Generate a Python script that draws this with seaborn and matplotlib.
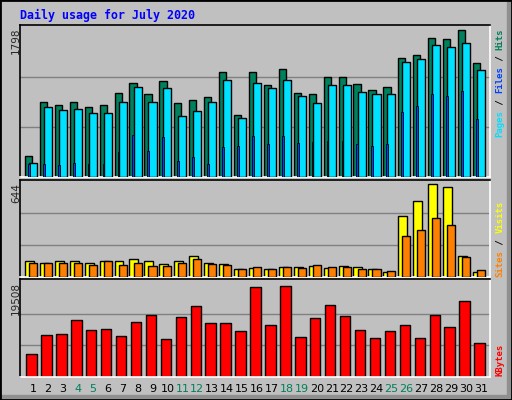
import matplotlib
matplotlib.use("Agg")
import matplotlib.pyplot as plt
import seaborn as sns
import numpy as np
from matplotlib.patches import Rectangle

days = list(range(1, 32))
hits = [248,903,867,903,843,867,1011,1131,999,1147,891,927,963,1255,747,1255,
        1107,1299,1011,999,1203,1203,1119,1047,1083,1430,1466,1670,1658,1766,1370]
files = [172,843,807,819,771,771,903,1083,903,1071,735,795,903,1167,711,1131,
         1071,1167,975,891,1107,1107,1023,999,999,1382,1418,1586,1562,1610,1286]
pages = [160,160,148,172,160,160,304,507,316,483,196,244,160,364,376,495,
         400,495,412,424,436,436,400,376,400,783,855,999,975,1035,699]
visits = [105,96,105,105,96,105,105,123,110,90,105,144,96,90,56,63,
          56,70,70,76,63,76,70,56,36,406,507,622,601,144,36]
sites = [92,96,96,96,83,105,83,96,76,76,96,123,90,83,56,70,
         56,70,63,83,70,70,56,56,43,278,312,393,352,137,49]
kbytes = [4791,8693,8898,11773,9720,9925,8488,11363,12800,7872,12389,14648,11157,11157,9514,18549,
          10746,18755,8282,12184,14853,12595,9720,8077,9514,10746,8077,12800,10336,15675,7050]
weekend = [4,5,11,12,18,19,25,26]
max_hits, max_visits, max_kb = 1798, 644, 19508

sns.set_theme(style="white")
BG = "#C0C0C0"
W, H = 512, 400
fig = plt.figure(figsize=(W/100, H/100), dpi=100, facecolor=BG)

def px(l, t, r, b):
    return [l/W, 1-b/H, (r-l)/W, (b-t)/H]

# frame
fig.patches.append(Rectangle((0, 0), 1, 1, transform=fig.transFigure, fill=False, ec="black", lw=2))
fig.patches.append(Rectangle((507/W, 0), 5/W, 1, transform=fig.transFigure, color="#909090", zorder=0))
fig.patches.append(Rectangle((0, 0), 1, 5/H, transform=fig.transFigure, color="#909090", zorder=0))

x = np.array(days, dtype=float)
xlim = (0.13, 31.6)

def style(ax, top, vmax):
    ax.set_facecolor(BG)
    ax.set_xlim(*xlim)
    ax.set_ylim(0, top)
    for v in (vmax/3, 2*vmax/3):
        ax.axhline(v, color="#808080", lw=1, zorder=0)
    ax.set_xticks([]); ax.set_yticks([])
    for s in ("top", "left"):
        ax.spines[s].set_color("black")
    for s in ("bottom", "right"):
        ax.spines[s].set_color("white")
    for s in ax.spines.values():
        s.set_linewidth(1.2)

ax1 = fig.add_axes(px(20, 25, 490, 177))
style(ax1, max_hits*152/150, max_hits)
ax1.bar(x-0.30, hits, width=0.48, color="#00805C", ec="black", lw=1, zorder=2)
ax1.bar(x, files, width=0.54, color="#00E0FF", ec="black", lw=1, zorder=3)
ax1.bar(x-0.28, pages, width=0.12, color="#0040FF", ec="black", lw=0.6, zorder=4)

ax2 = fig.add_axes(px(20, 180, 490, 277))
style(ax2, max_visits*97/96, max_visits)
ax2.bar(x-0.24, visits, width=0.6, color="#FFFF00", ec="black", lw=1, zorder=2)
ax2.bar(x, sites, width=0.54, color="#FF8000", ec="black", lw=1, zorder=3)

ax3 = fig.add_axes(px(20, 279, 490, 377))
style(ax3, max_kb*98/95, max_kb)
sns.barplot(x=x-0.1, y=kbytes, ax=ax3, native_scale=True, width=0.7,
            color="#FF0000", saturation=1, edgecolor="black", linewidth=1, zorder=2)
ax3.set_xlim(*xlim); ax3.set_xticks([]); ax3.set_ylabel("")

for d in days:
    c = "#00805C" if d in weekend else "black"
    ax3.text(d, -0.12, str(d), transform=ax3.get_xaxis_transform(), ha="center", va="center",
             fontsize=8, color=c, family="DejaVu Sans")

for yt, lab in ((27, "1798"), (183, "644"), (282, "19508")):
    fig.text(16/W, 1-yt/H, lab, rotation=90, ha="center", va="top", fontsize=7.5, family="DejaVu Sans")

fig.text(20/W, 1-15/H, "Daily usage for July 2020", color="#0000FF", fontsize=8.4,
         family="DejaVu Sans Mono", weight="bold", va="center", ha="left")

cw = 5.45
def vlabel(bottom, parts):
    y = bottom
    for s, c in parts:
        fig.text(500/W, 1-y/H, s, rotation=90, ha="center", va="bottom", color=c,
                 fontsize=6.5, family="DejaVu Sans Mono", weight="bold")
        y -= cw*len(s)

vlabel(137, [("Pages", "#00E0FF"), (" / ", "black"), ("Files", "#0040FF"),
             (" / ", "black"), ("Hits", "#00805C")])
vlabel(277, [("Sites", "#FF8000"), (" / ", "black"), ("Visits", "#FFFF00")])
vlabel(376, [("KBytes", "#FF0000")])

fig.savefig("out.png", dpi=100, facecolor=BG)
